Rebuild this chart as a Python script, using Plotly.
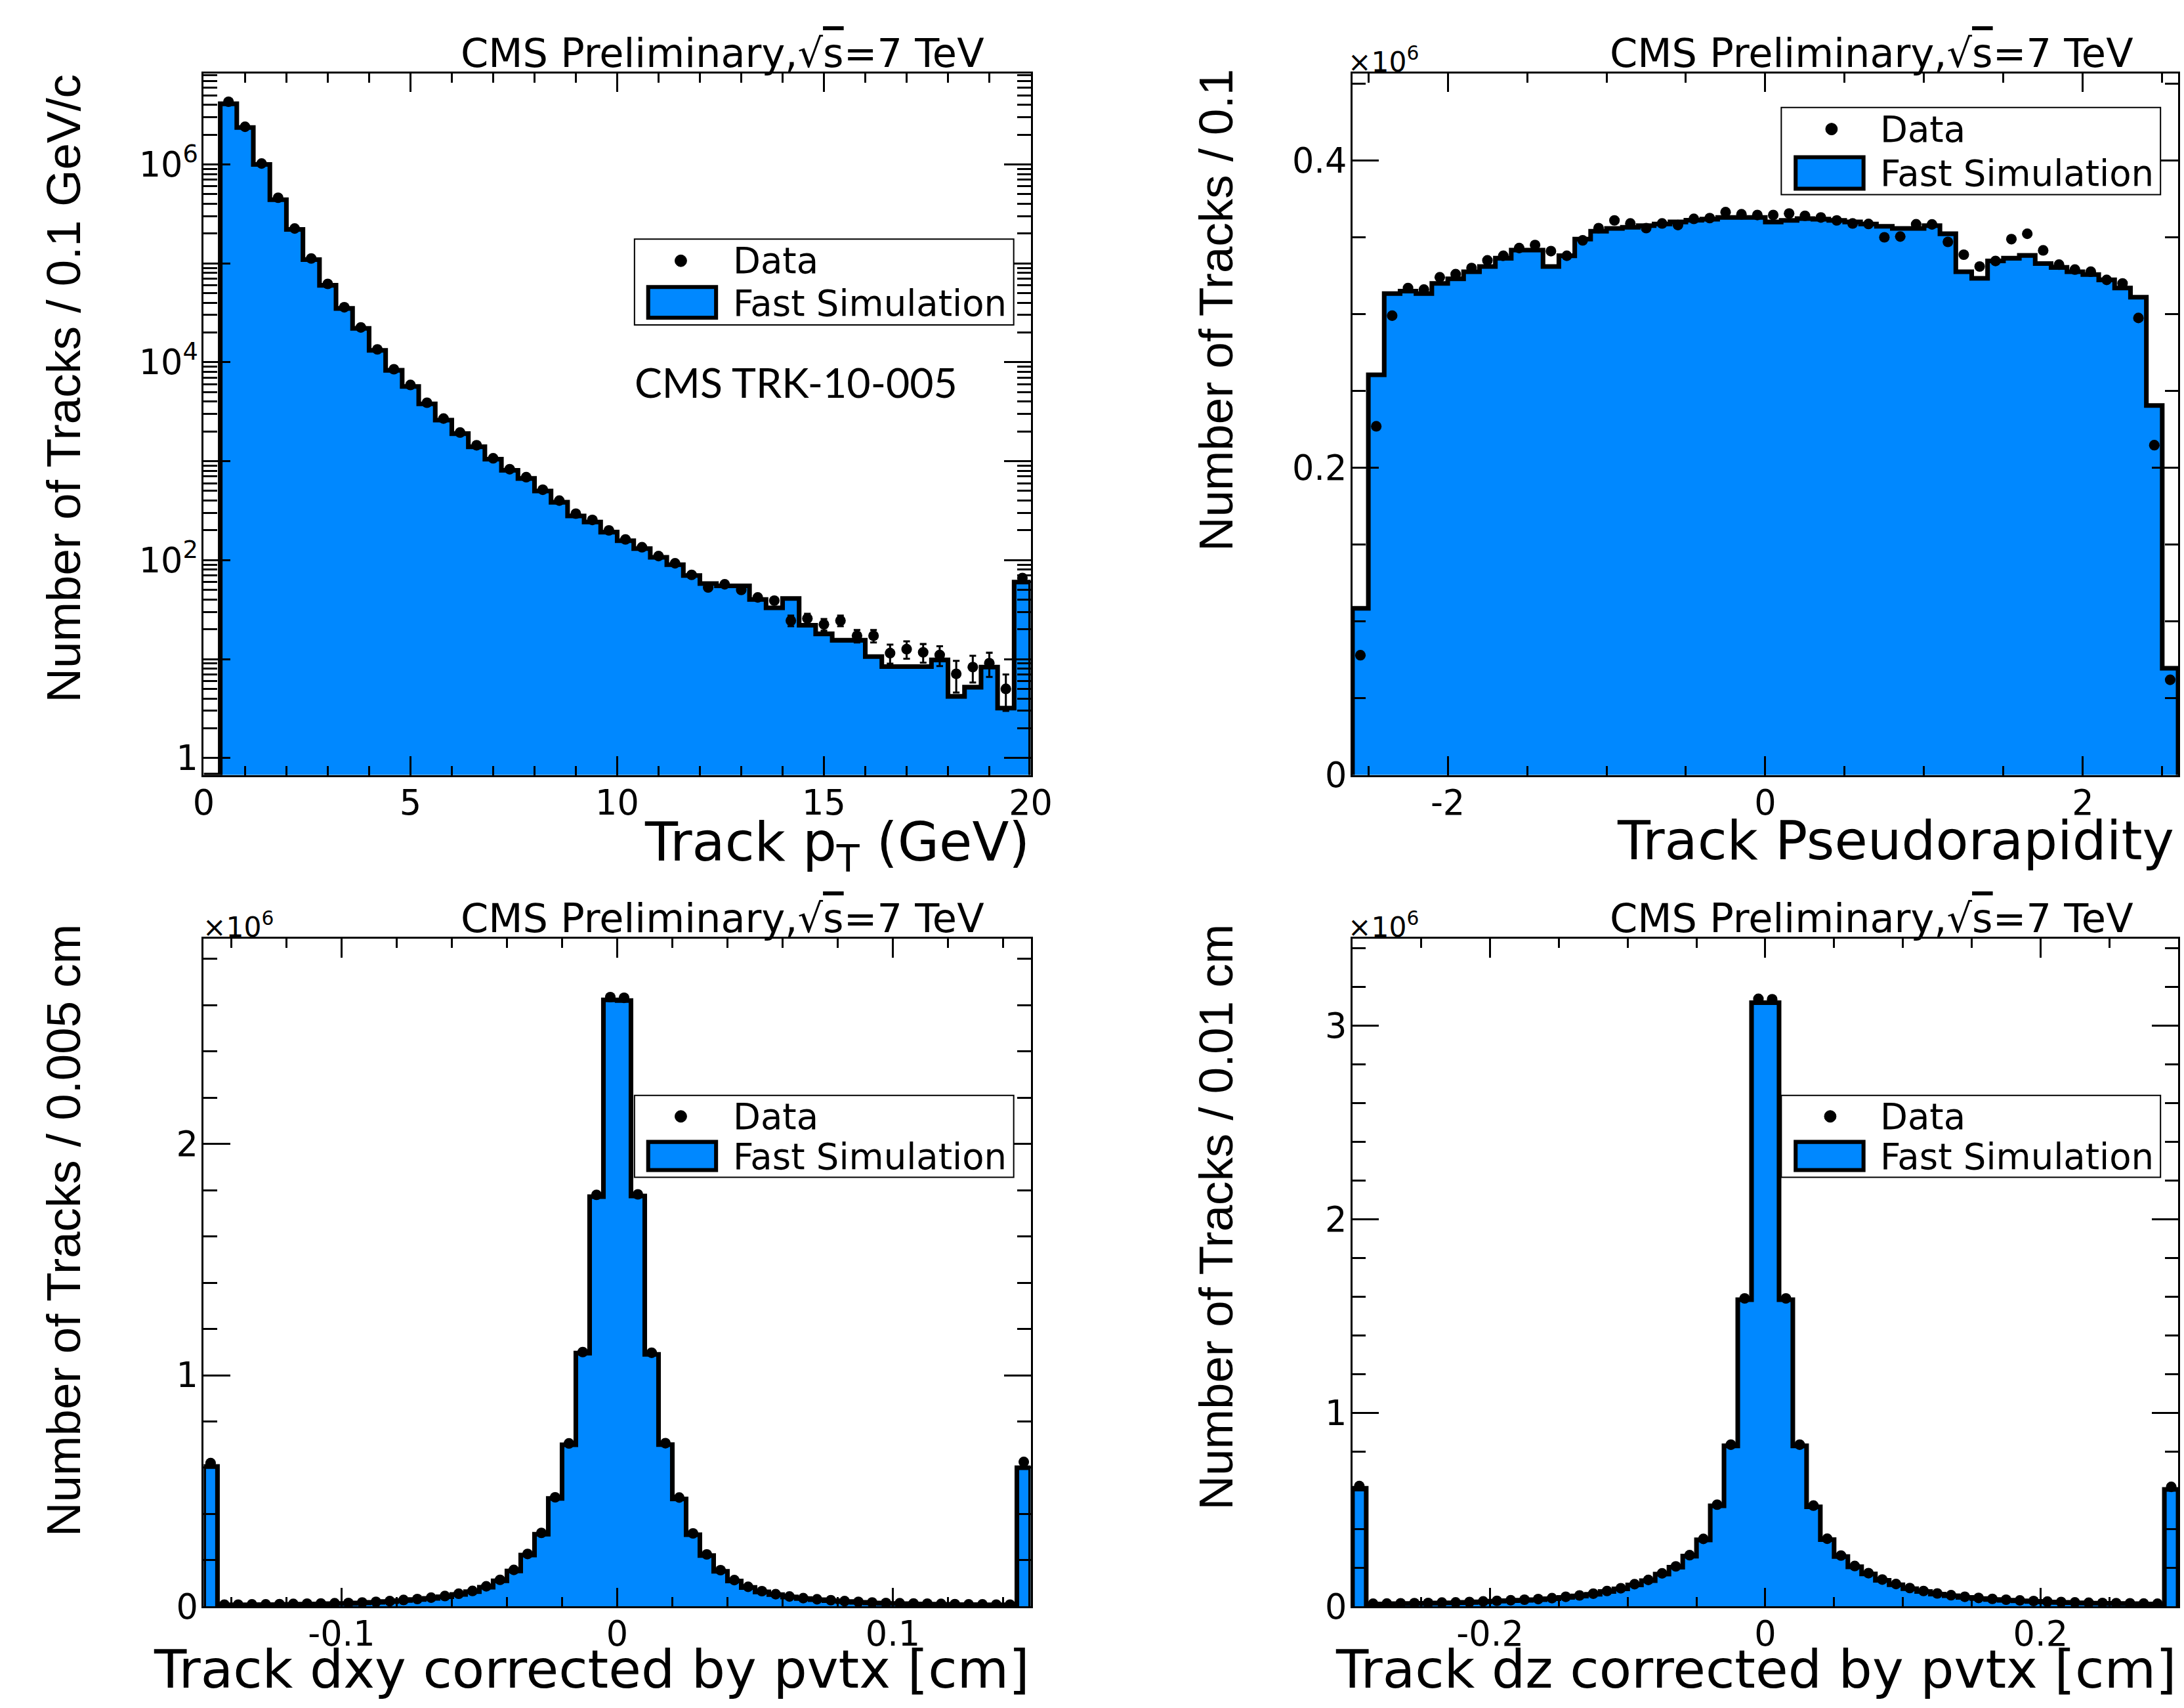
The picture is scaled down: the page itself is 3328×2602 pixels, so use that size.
import numpy as np
import plotly.graph_objects as go

# layout is described in a 3328 x 2602 pixel frame; the page itself is drawn
# slightly larger (S) so it fills the browser viewport
REF_W, REF_H = 3328, 2602
S = 1.0096
W, H = round(REF_W * S), round(REF_H * S)
BLUE = "#0088ff"
SANS = "DejaVu Sans"
HELV = "Liberation Sans, Arial, sans-serif"

# ---------------- Track pT: 50 bins of 0.4 GeV on [0, 20] ----------------
pt_range = (0.0, 20.0)
pt_sim = [0, 4.1e6, 2.36e6, 1.0e6, 4.4e5, 2.2e5, 1.09e5, 6.0e4, 3.5e4, 2.2e4,
          1.32e4, 8.3e3, 5.7e3, 3.8e3, 2.6e3, 1.9e3, 1.4e3, 1.05e3, 810, 670,
          500, 385, 280, 243, 192, 157, 131, 107, 90, 70,
          58, 55, 55, 40, 33, 41, 22, 18, 15.5, 15.5,
          10.6, 8.4, 8.4, 8.4, 9.8, 4.2, 5.2, 8.3, 3.2, 60]
pt_data = [None, 4.3e6, 2.4e6, 1.02e6, 4.6e5, 2.25e5, 1.12e5, 6.2e4, 3.6e4, 2.25e4,
           1.35e4, 8.5e3, 5.9e3, 3.9e3, 2.7e3, 1.95e3, 1.45e3, 1.07e3, 830, 690,
           515, 400, 295, 255, 200, 162, 135, 110, 93, 71,
           53, 57, 50, 42, 39, 24.5, 25.7, 22.4, 24.5, 17.2,
           17.2, 11.5, 12.6, 11.7, 11, 7.1, 8.3, 9.1, 5.0, 66]
pt_data_err = [0, 0, 0, 0, 0, 0, 0, 0, 0, 0,
               0, 0, 0, 0, 0, 0, 0, 0, 0, 0,
               0, 0, 0, 0, 0, 0, 0, 0, 2.0, 2.2,
               2.2, 2.3, 2.3, 2.4, 2.5, 3.0, 3.0, 3.0, 3.0, 2.5,
               2.5, 2.5, 2.5, 2.5, 2.5, 2.5, 2.5, 2.5, 2.0, 4.0]
pt_xticks = [0, 5, 10, 15, 20]
pt_xticktext = ["0", "5", "10", "15", "20"]
pt_yticks = [1, 10, 1e2, 1e3, 1e4, 1e5, 1e6]
pt_yticktext = ["1", "", "10<sup>2</sup>", "", "10<sup>4</sup>", "", "10<sup>6</sup>"]

# ---------------- Pseudorapidity: 52 bins of 0.1 on [-2.6, 2.6] (x10^6) ----------------
eta_range = (-2.6, 2.6)
eta_sim = [0.1085, 0.2605, 0.3134, 0.3150, 0.3134, 0.3200, 0.3230, 0.3276, 0.3310, 0.3364,
           0.3417, 0.3417, 0.3310, 0.3380, 0.3488, 0.3540, 0.3558, 0.3565, 0.3576, 0.3587,
           0.3600, 0.3611, 0.3618, 0.3629, 0.3629, 0.3629, 0.3600, 0.3610, 0.3622, 0.3618,
           0.3610, 0.3600, 0.3587, 0.3572, 0.3558, 0.3558, 0.3576, 0.3523, 0.3276, 0.3233,
           0.3346, 0.3364, 0.3382, 0.3329, 0.3304, 0.3276, 0.3258, 0.3223, 0.3170, 0.3110,
           0.2405, 0.0695]
eta_data = [0.078, 0.227, 0.299, 0.317, 0.316, 0.324, 0.326, 0.330, 0.335, 0.338,
            0.343, 0.345, 0.341, 0.338, 0.348, 0.356, 0.361, 0.359, 0.356, 0.359,
            0.358, 0.362, 0.3625, 0.3664, 0.365, 0.3645, 0.3645, 0.3655, 0.364, 0.3629,
            0.361, 0.359, 0.3587, 0.350, 0.3505, 0.3585, 0.3584, 0.347, 0.3387, 0.331,
            0.3346, 0.3488, 0.3523, 0.3415, 0.3322, 0.329, 0.3276, 0.3223, 0.320, 0.2975,
            0.2147, 0.062]
eta_xticks = [-2, 0, 2]
eta_xticktext = ["-2", "0", "2"]
eta_yticks = [0, 0.2, 0.4]
eta_yticktext = ["0", "0.2", "0.4"]

# ---------------- dxy: 60 bins of 0.005 cm on [-0.15, 0.15] (x10^6) ----------------
dxy_range = (-0.15, 0.15)
dxy_sim = [0.605, 0.006, 0.007, 0.007, 0.008, 0.008, 0.009, 0.010, 0.011, 0.012,
           0.013, 0.015, 0.018, 0.021, 0.0255, 0.030, 0.035, 0.042, 0.052, 0.064,
           0.083, 0.111, 0.1535, 0.222, 0.3125, 0.467, 0.699, 1.0955, 1.772, 2.623,
           2.620, 1.775, 1.090, 0.700, 0.465, 0.310, 0.220, 0.152, 0.110, 0.082,
           0.063, 0.051, 0.041, 0.034, 0.029, 0.025, 0.021, 0.018, 0.015, 0.013,
           0.012, 0.011, 0.010, 0.009, 0.008, 0.008, 0.007, 0.007, 0.006, 0.600]
dxy_data = [0.620, 0.008, 0.008, 0.009, 0.009, 0.010, 0.011, 0.012, 0.013, 0.014,
            0.015, 0.017, 0.020, 0.023, 0.028, 0.032, 0.038, 0.045, 0.055, 0.067,
            0.087, 0.115, 0.158, 0.227, 0.318, 0.472, 0.705, 1.100, 1.780, 2.635,
            2.632, 1.782, 1.097, 0.706, 0.471, 0.316, 0.225, 0.157, 0.114, 0.085,
            0.066, 0.053, 0.043, 0.036, 0.031, 0.027, 0.023, 0.020, 0.017, 0.015,
            0.014, 0.013, 0.012, 0.011, 0.010, 0.009, 0.009, 0.008, 0.008, 0.625]
dxy_xticks = [-0.1, 0, 0.1]
dxy_xticktext = ["-0.1", "0", "0.1"]
dxy_yticks = [0, 1, 2]
dxy_yticktext = ["0", "1", "2"]

# ---------------- dz: 60 bins of 0.01 cm on [-0.3, 0.3] (x10^6) ----------------
dz_range = (-0.3, 0.3)
dz_sim = [0.611, 0.012, 0.013, 0.014, 0.015, 0.016, 0.018, 0.019, 0.021, 0.024,
          0.027, 0.030, 0.032, 0.035, 0.040, 0.047, 0.054, 0.063, 0.077, 0.091,
          0.111, 0.133, 0.167, 0.203, 0.260, 0.344, 0.520, 0.830, 1.585, 3.120,
          3.120, 1.585, 0.830, 0.515, 0.345, 0.258, 0.205, 0.168, 0.135, 0.112,
          0.092, 0.077, 0.064, 0.055, 0.047, 0.041, 0.036, 0.032, 0.029, 0.026,
          0.023, 0.021, 0.019, 0.017, 0.016, 0.015, 0.014, 0.013, 0.012, 0.605]
dz_data = [0.622, 0.014, 0.015, 0.016, 0.017, 0.018, 0.020, 0.021, 0.023, 0.026,
           0.029, 0.032, 0.035, 0.038, 0.043, 0.050, 0.057, 0.066, 0.080, 0.094,
           0.115, 0.137, 0.171, 0.207, 0.265, 0.349, 0.526, 0.836, 1.592, 3.140,
           3.138, 1.592, 0.836, 0.521, 0.350, 0.263, 0.209, 0.172, 0.139, 0.116,
           0.095, 0.080, 0.067, 0.058, 0.050, 0.044, 0.039, 0.035, 0.031, 0.028,
           0.025, 0.023, 0.021, 0.019, 0.018, 0.017, 0.016, 0.015, 0.014, 0.618]
dz_xticks = [-0.2, 0, 0.2]
dz_xticktext = ["-0.2", "0", "0.2"]
dz_yticks = [0, 1, 2, 3]
dz_yticktext = ["0", "1", "2", "3"]


def sz(v):
    """Pixel size in the 3328-wide frame -> page pixels."""
    return v * S


def step_outline(lo, hi, values, floor):
    """Closed step path of a histogram (left edge, bin tops, right edge)."""
    n = len(values)
    edges = np.linspace(lo, hi, n + 1)
    v = np.maximum(np.asarray(values, dtype=float), floor)
    x = np.concatenate([[edges[0]], edges[:-1], [edges[-1]]])
    y = np.concatenate([[floor], v, [floor]])
    return x, y


def bin_centers(lo, hi, n):
    edges = np.linspace(lo, hi, n + 1)
    return 0.5 * (edges[:-1] + edges[1:])


fig = go.Figure()

panels = [
    dict(ax="", rng=pt_range, sim=pt_sim, data=pt_data, err=pt_data_err, floor=10 ** -0.172),
    dict(ax="2", rng=eta_range, sim=eta_sim, data=eta_data, err=None, floor=0.0),
    dict(ax="3", rng=dxy_range, sim=dxy_sim, data=dxy_data, err=None, floor=0.0),
    dict(ax="4", rng=dz_range, sim=dz_sim, data=dz_data, err=None, floor=0.0),
]

for p in panels:
    xs, ys = step_outline(p["rng"][0], p["rng"][1], p["sim"], p["floor"])
    fig.add_trace(go.Scatter(
        x=xs, y=ys, mode="lines", line=dict(color="black", width=sz(7), shape="hv"),
        fill="toself", fillcolor=BLUE, showlegend=False, hoverinfo="skip",
        xaxis="x" + p["ax"], yaxis="y" + p["ax"]))
    xc = bin_centers(p["rng"][0], p["rng"][1], len(p["sim"]))
    err = None
    if p["err"] is not None:
        err = dict(type="data", array=p["err"], visible=True, color="black",
                   thickness=sz(3), width=sz(5))
    fig.add_trace(go.Scatter(
        x=xc, y=p["data"], mode="markers",
        marker=dict(color="black", size=sz(16), symbol="circle"),
        error_y=err, showlegend=False, hoverinfo="skip",
        xaxis="x" + p["ax"], yaxis="y" + p["ax"]))


def px_x(px):
    return px / REF_W


def px_y(py):
    return 1 - py / REF_H


def axis_style(**kw):
    base = dict(showline=True, linecolor="black", linewidth=sz(3), mirror="allticks",
                ticks="inside", tickcolor="black", tickwidth=sz(3),
                showgrid=False, zeroline=False, tickmode="array",
                tickfont=dict(family=SANS, size=sz(52), color="black"))
    base.update(kw)
    return base


def xaxis_style(**kw):
    return axis_style(ticklen=sz(28), ticklabelstandoff=-6, **kw)


def yaxis_style(**kw):
    return axis_style(ticklen=sz(40), ticklabelstandoff=-5, **kw)


def minor(ticklen, **kw):
    d = dict(ticks="inside", ticklen=sz(ticklen), tickwidth=sz(3), tickcolor="black",
             showgrid=False)
    d.update(kw)
    return d


left_x = [px_x(295), px_x(1562)]
right_x = [px_x(2055), px_x(3320)]
top_y = [px_y(1183), px_y(112)]
bot_y = [px_y(2452), px_y(1433)]

log_minor = [m * 10 ** k for k in range(0, 7) for m in range(2, 10)]

fig.update_layout(
    width=W, height=H, autosize=False,
    margin=dict(l=0, r=0, t=0, b=0, pad=0),
    paper_bgcolor="white", plot_bgcolor="white",
    xaxis=xaxis_style(domain=left_x, anchor="y", range=list(pt_range),
                      tickvals=pt_xticks, ticktext=pt_xticktext,
                      minor=minor(14, dtick=1)),
    yaxis=yaxis_style(domain=top_y, anchor="x", type="log", range=[-0.172, 6.92],
                      tickvals=pt_yticks, ticktext=pt_yticktext,
                      minor=minor(20, tickmode="array", tickvals=log_minor)),
    xaxis2=xaxis_style(domain=right_x, anchor="y2", range=list(eta_range),
                       tickvals=eta_xticks, ticktext=eta_xticktext,
                       minor=minor(14, dtick=0.5, tick0=0)),
    yaxis2=yaxis_style(domain=top_y, anchor="x2", range=[0, 0.4567],
                       tickvals=eta_yticks, ticktext=eta_yticktext,
                       minor=minor(20, dtick=0.05, tick0=0)),
    xaxis3=xaxis_style(domain=left_x, anchor="y3", range=list(dxy_range),
                       tickvals=dxy_xticks, ticktext=dxy_xticktext,
                       minor=minor(14, dtick=0.02, tick0=0)),
    yaxis3=yaxis_style(domain=bot_y, anchor="x3", range=[0, 2.887],
                       tickvals=dxy_yticks, ticktext=dxy_yticktext,
                       minor=minor(20, dtick=0.2, tick0=0)),
    xaxis4=xaxis_style(domain=right_x, anchor="y4", range=list(dz_range),
                       tickvals=dz_xticks, ticktext=dz_xticktext,
                       minor=minor(14, dtick=0.05, tick0=0)),
    yaxis4=yaxis_style(domain=bot_y, anchor="x4", range=[0, 3.45],
                       tickvals=dz_yticks, ticktext=dz_yticktext,
                       minor=minor(20, dtick=0.2, tick0=0)),
)

annotations = []
shapes = []


def text(px, py, s, size, family=SANS, xanchor="center", yanchor="middle", angle=0):
    annotations.append(dict(
        x=px_x(px), y=px_y(py), xref="paper", yref="paper", text=s, showarrow=False,
        xanchor=xanchor, yanchor=yanchor, textangle=angle,
        font=dict(family=family, size=sz(size), color="black")))


title_txt = "CMS Preliminary,√<span style='text-decoration:overline'>s</span>=7 TeV"
for cx, cy in [(1090, 81), (2850, 81), (1090, 1402), (2850, 1402)]:
    text(cx, cy, title_txt, 60)

for lx, ly in [(2046, 91), (292, 1412), (2046, 1412)]:
    text(lx, ly, "×10<sup>6</sup>", 42, xanchor="left")

# axis titles (right-aligned at the end of each axis)
text(1562, 1290, "Track p<sub>T</sub> (GeV)", 81, xanchor="right")
text(3316, 1283, "Track Pseudorapidity", 81, xanchor="right")
text(1562, 2548, "Track dxy corrected by pvtx [cm]", 80, xanchor="right")
text(3320, 2548, "Track dz corrected by pvtx [cm]", 80, xanchor="right")

text(80, 593, "Number of Tracks / 0.1 GeV/c", 72, family=HELV, angle=-90)
text(1845, 474, "Number of Tracks / 0.1", 72, family=HELV, angle=-90)
text(80, 1878, "Number of Tracks / 0.005 cm", 72, family=HELV, angle=-90)
text(1845, 1858, "Number of Tracks / 0.01 cm", 72, family=HELV, angle=-90)

text(1203, 583, "CMS TRK-10-005", 62, family="Lato")

# legends
legends = [
    dict(box=(955, 365, 1536, 496), dot=(1026, 398), tx=1104, rows=(398, 463), sw=(976, 438, 1080, 485)),
    dict(box=(2712, 164, 3293, 297), dot=(2789, 197), tx=2861, rows=(197, 265), sw=(2734, 240, 2838, 288)),
    dict(box=(955, 1672, 1536, 1797), dot=(1026, 1704), tx=1104, rows=(1704, 1765), sw=(976, 1743, 1080, 1786)),
    dict(box=(2712, 1672, 3293, 1797), dot=(2787, 1704), tx=2861, rows=(1704, 1765), sw=(2734, 1743, 2838, 1786)),
]


def rect(x0, y0, x1, y1, **kw):
    d = dict(type="rect", xref="paper", yref="paper", layer="above",
             x0=px_x(x0), x1=px_x(x1), y0=px_y(y1), y1=px_y(y0))
    d.update(kw)
    shapes.append(d)


for lg in legends:
    rect(*lg["box"], fillcolor="white", line=dict(color="black", width=sz(2)))
    cx, cy = lg["dot"]
    r = 9
    shapes.append(dict(type="circle", xref="paper", yref="paper", layer="above",
                       x0=px_x(cx - r), x1=px_x(cx + r), y0=px_y(cy + r), y1=px_y(cy - r),
                       fillcolor="black", line=dict(color="black", width=1)))
    rect(*lg["sw"], fillcolor=BLUE, line=dict(color="black", width=sz(6)))
    text(lg["tx"], lg["rows"][0], "Data", 54, xanchor="left")
    text(lg["tx"], lg["rows"][1], "Fast Simulation", 54, xanchor="left")

fig.update_layout(annotations=annotations, shapes=shapes)

fig.write_html("out.html")
